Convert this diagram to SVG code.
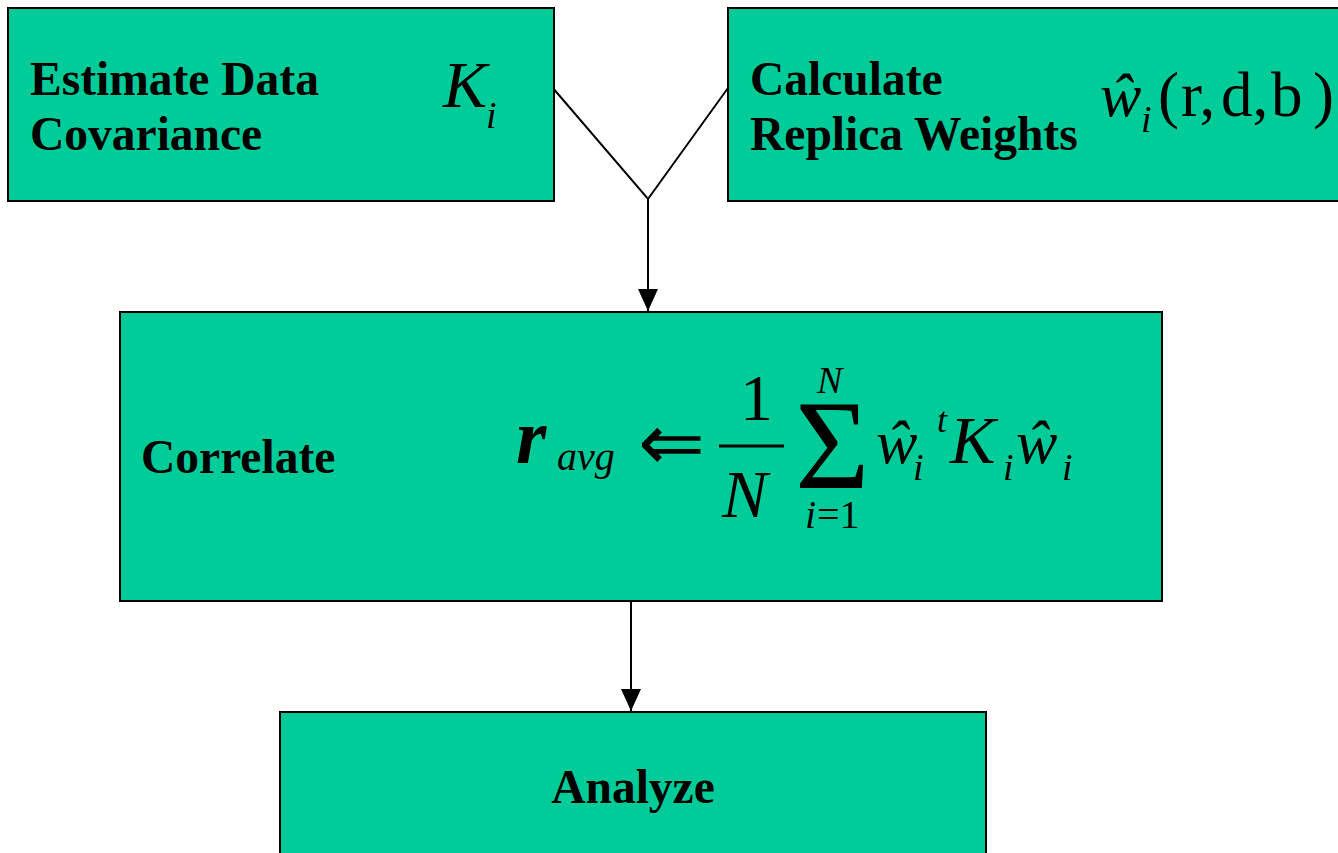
<svg xmlns="http://www.w3.org/2000/svg" width="1338" height="853" viewBox="0 0 1338 853">
<defs>
<style>
.box{fill:#00CC99;stroke:#000;stroke-width:2}
.lbl{font-family:"Liberation Serif","Times New Roman",serif;font-weight:bold;font-size:47.5px;fill:#000}
.m{font-family:"Liberation Serif","Times New Roman",serif;fill:#000}
.it{font-style:italic}
.conn{stroke:#000;stroke-width:2;fill:none}
</style>
<marker id="arr" viewBox="0 0 22 20" refX="22" refY="10" markerWidth="22" markerHeight="20" markerUnits="userSpaceOnUse" orient="auto">
<path d="M0,0 L22,10 L0,20 Z" fill="#000"/>
</marker>
</defs>
<rect width="1338" height="853" fill="#fff"/>
<g id="connectors">
<path class="conn" d="M552,87 L648,199 L728,88"/>
<line class="conn" x1="648" y1="199" x2="648" y2="311" marker-end="url(#arr)"/>
<line class="conn" x1="631" y1="598" x2="631" y2="711" marker-end="url(#arr)"/>
</g>
<g id="node-estimate">
<rect class="box" x="8" y="8" width="546" height="193"/>
<text class="lbl" x="30" y="95">Estimate Data</text>
<text class="lbl" x="30" y="150">Covariance</text>
<text class="m it" x="443" y="107" font-size="66">K</text>
<text class="m it" x="486" y="128" font-size="38">i</text>
</g>
<g id="node-weights">
<rect class="box" x="728" y="8" width="620" height="193"/>
<text class="lbl" x="750" y="95">Calculate</text>
<text class="lbl" x="750" y="150">Replica Weights</text>
<text class="m it" x="1100" y="116" font-size="62">ŵ</text>
<text class="m it" x="1141" y="132" font-size="38">i</text>
<text class="m" y="116" font-size="63"><tspan x="1158">(</tspan><tspan x="1181">r,</tspan><tspan x="1221">d,</tspan><tspan x="1271">b</tspan><tspan x="1313">)</tspan></text>
</g>
<g id="node-correlate">
<rect class="box" x="120" y="312" width="1042" height="289"/>
<text class="lbl" x="141" y="473">Correlate</text>
<text class="m it" x="516" y="463" font-size="78" font-weight="bold">r</text>
<text class="m it" x="557" y="470" font-size="40">avg</text>
<text class="m" x="638" y="470" font-size="80">⇐</text>
<text class="m" x="740" y="420" font-size="66">1</text>
<line x1="719" y1="446" x2="784" y2="446" stroke="#000" stroke-width="3"/>
<text class="m it" x="722" y="517" font-size="68">N</text>
<text class="m" x="795" y="488" font-size="128">Σ</text>
<text class="m it" x="817" y="393" font-size="38">N</text>
<text class="m it" x="805" y="528" font-size="40">i</text>
<text class="m" x="817" y="528" font-size="40">=1</text>
<text class="m it" x="876" y="463" font-size="62">ŵ</text>
<text class="m it" x="913" y="480" font-size="38">i</text>
<text class="m it" x="937" y="432" font-size="36">t</text>
<text class="m it" x="950" y="463" font-size="68">K</text>
<text class="m it" x="1003" y="480" font-size="38">i</text>
<text class="m it" x="1016" y="463" font-size="62">ŵ</text>
<text class="m it" x="1062" y="480" font-size="38">i</text>
</g>
<g id="node-analyze">
<rect class="box" x="280" y="712" width="706" height="160"/>
<text class="lbl" x="633" y="803" text-anchor="middle">Analyze</text>
</g>
</svg>
